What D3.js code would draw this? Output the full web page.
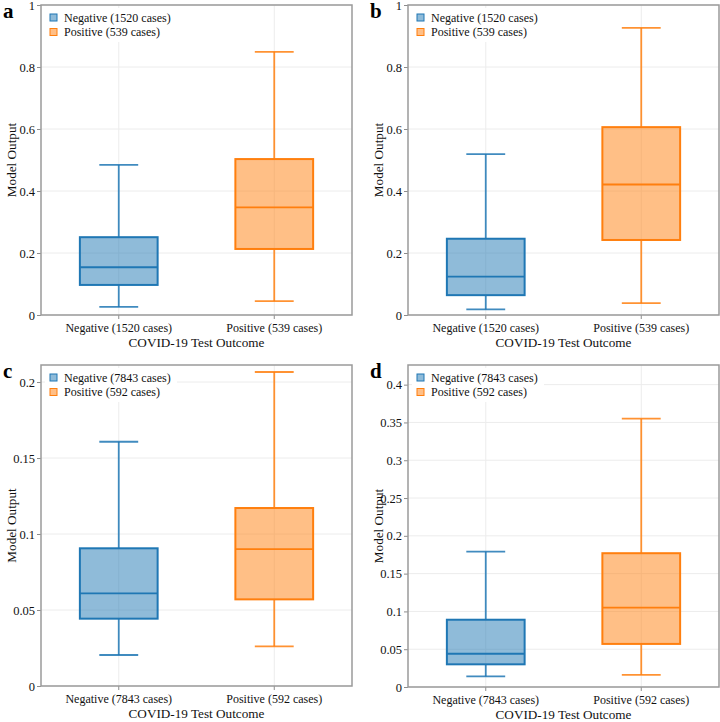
<!DOCTYPE html>
<html><head><meta charset="utf-8">
<script src="https://cdn.jsdelivr.net/npm/d3@7"></script>
<style>html,body{margin:0;padding:0;background:#fff;}svg{display:block;}svg text{font-family:"Liberation Serif","Times New Roman",Tinos,"DejaVu Serif",serif !important;}</style>
</head><body>
<svg id="chart" width="720" height="722"></svg>
<script>
// ---- data ----
const panelLetters = ["a", "b", "c", "d"];
const categoriesAB = ["Negative (1520 cases)", "Positive (539 cases)"];
const categoriesCD = ["Negative (7843 cases)", "Positive (592 cases)"];
// [whisker low, Q1, median, Q3, whisker high]
const negA = [0.026, 0.097, 0.154, 0.251, 0.484];
const posA = [0.045, 0.213, 0.347, 0.503, 0.849];
const negB = [0.018, 0.064, 0.124, 0.246, 0.519];
const posB = [0.038, 0.242, 0.421, 0.606, 0.926];
const negC = [0.0204, 0.0443, 0.0610, 0.0906, 0.1607];
const posC = [0.0261, 0.0570, 0.0901, 0.1171, 0.2066];
const negD = [0.014, 0.030, 0.044, 0.089, 0.179];
const posD = [0.016, 0.057, 0.105, 0.177, 0.355];
const ticksAB = [0, 0.2, 0.4, 0.6, 0.8, 1];
const ticksC = [0, 0.05, 0.1, 0.15, 0.2];
const ticksD = [0, 0.05, 0.1, 0.15, 0.2, 0.25, 0.3, 0.35, 0.4];
const yMaxAB = 1, yMaxC = 0.2112, yMaxD = 0.426;
const xTitle = "COVID-19 Test Outcome";
const yTitle = "Model Output";

const colors = ["#1f77b4", "#ff7f0e"];
const fills = ["#8fbbd9", "#ffbf87"];
const FONT = '"Liberation Serif","Times New Roman",Tinos,"DejaVu Serif",serif';

const panels = [
  {letter: panelLetters[0], cats: categoriesAB, stats: [negA, posA], ticks: ticksAB, ymax: yMaxAB, box: {l: 41, r: 352, t: 5, b: 315}},
  {letter: panelLetters[1], cats: categoriesAB, stats: [negB, posB], ticks: ticksAB, ymax: yMaxAB, box: {l: 408, r: 719, t: 5, b: 315}},
  {letter: panelLetters[2], cats: categoriesCD, stats: [negC, posC], ticks: ticksC, ymax: yMaxC, box: {l: 41, r: 352, t: 365, b: 686}},
  {letter: panelLetters[3], cats: categoriesCD, stats: [negD, posD], ticks: ticksD, ymax: yMaxD, box: {l: 408, r: 719, t: 365, b: 687}}
];

const svg = d3.select("#chart");
const fmt = v => (v === 0 ? "0" : v === 1 ? "1" : String(+v.toFixed(2)));

panels.forEach(p => {
  const {l, r, t, b} = p.box;
  const g = svg.append("g").attr("font-family", FONT);
  const x = d3.scaleBand().domain(p.cats).range([l, r]).padding(0);
  const y = d3.scaleLinear().domain([0, p.ymax]).range([b, t]);

  // grid
  g.append("g").selectAll("line.h").data(p.ticks).join("line")
    .attr("x1", l).attr("x2", r).attr("y1", d => y(d)).attr("y2", d => y(d))
    .attr("stroke", "#ececec").attr("stroke-width", 1);
  g.append("g").selectAll("line.v").data(p.cats).join("line")
    .attr("x1", d => x(d) + x.bandwidth() / 2).attr("x2", d => x(d) + x.bandwidth() / 2)
    .attr("y1", t).attr("y2", b)
    .attr("stroke", "#ececec").attr("stroke-width", 1);

  // boxes
  const bw = x.bandwidth() * 0.5, cw = x.bandwidth() * 0.25;
  p.cats.forEach((c, i) => {
    const s = p.stats[i];
    const cx = x(c) + x.bandwidth() / 2;
    const col = colors[i];
    const bg = g.append("g");
    const seg = (x1, x2, y1, y2, op) => bg.append("line").attr("x1", x1).attr("x2", x2).attr("y1", y1).attr("y2", y2)
      .attr("stroke", col).attr("stroke-width", 1.8).attr("stroke-opacity", op);
    seg(cx, cx, y(s[0]), y(s[1]), 0.85);
    seg(cx, cx, y(s[3]), y(s[4]), 0.85);
    seg(cx - cw / 2, cx + cw / 2, y(s[0]), y(s[0]), 0.85);
    seg(cx - cw / 2, cx + cw / 2, y(s[4]), y(s[4]), 0.85);
    bg.append("rect").attr("x", cx - bw / 2).attr("width", bw)
      .attr("y", y(s[3])).attr("height", y(s[1]) - y(s[3]))
      .attr("fill", col).attr("fill-opacity", 0.5)
      .attr("stroke", col).attr("stroke-width", 2);
    seg(cx - bw / 2, cx + bw / 2, y(s[2]), y(s[2]), 1);
  });

  // axes
  const yAxis = d3.axisLeft(y).tickValues(p.ticks).tickFormat(fmt).tickSize(4).tickPadding(2);
  const ya = g.append("g").attr("transform", `translate(${l},0)`).call(yAxis);
  const xAxis = d3.axisBottom(x).tickSize(4).tickPadding(4);
  const xa = g.append("g").attr("transform", `translate(0,${b})`).call(xAxis);
  [ya, xa].forEach(a => {
    a.attr("font-family", FONT);
    a.select(".domain").remove();
    a.selectAll("line").attr("stroke", "#8c8c8c");
    a.selectAll("text").attr("font-size", 12.5).attr("fill", "#111");
  });
  xa.selectAll("text").attr("font-size", 12);

  // frame
  g.append("rect").attr("x", l).attr("y", t).attr("width", r - l).attr("height", b - t)
    .attr("fill", "none").attr("stroke", "#9a9a9a").attr("stroke-width", 1.5);

  // titles
  g.append("text").attr("x", (l + r) / 2).attr("y", b + 32).attr("text-anchor", "middle")
    .attr("font-size", 13.2).attr("fill", "#111").text(xTitle);
  g.append("text").attr("transform", `translate(${l - 25},${(t + b) / 2}) rotate(-90)`)
    .attr("text-anchor", "middle").attr("font-size", 13.2).attr("fill", "#111").text(yTitle);

  // panel letter
  g.append("text").attr("x", l - 38).attr("y", t + 13).attr("font-size", 21).attr("font-weight", "bold")
    .attr("fill", "#000").text(p.letter);

  // legend
  const lg = g.append("g");
  lg.append("rect").attr("x", l + 4).attr("y", t + 3).attr("width", 132).attr("height", 34).attr("fill", "#fff");
  p.cats.forEach((c, i) => {
    const cy = t + 12.5 + i * 14.5;
    lg.append("rect").attr("x", l + 9).attr("y", cy - 3.5).attr("width", 7).attr("height", 7)
      .attr("fill", fills[i]).attr("stroke", colors[i]).attr("stroke-width", 1);
    lg.append("text").attr("x", l + 23).attr("y", cy + 4).attr("font-size", 12).attr("fill", "#111").text(c);
  });
});
</script>
</body></html>
